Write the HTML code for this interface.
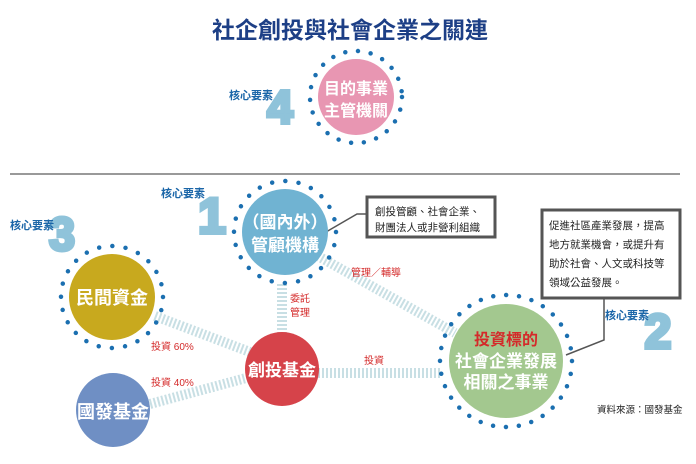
<!DOCTYPE html>
<html><head><meta charset="utf-8"><style>
html,body{margin:0;padding:0;background:#fff;}
svg{display:block;font-family:"Liberation Sans","Noto Sans CJK TC",sans-serif;}
.big{font-weight:bold;fill:#8fc3da;stroke:#8fc3da;stroke-width:4;stroke-linejoin:miter;}
</style></head><body>
<svg width="696" height="464" viewBox="0 0 696 464">
<text x="350" y="38" text-anchor="middle" font-size="23" font-weight="bold" fill="#1d3f86">社企創投與社會企業之關連</text>
<!-- 4 -->
<text class="big" x="280" y="123" text-anchor="middle" font-size="46">4</text>
<text x="251" y="99" text-anchor="middle" font-size="11" font-weight="bold" fill="#1b66a8">核心要素</text>
<circle cx="356" cy="97" r="46" fill="none" stroke="#1b6fb0" stroke-width="4.5" stroke-linecap="round" stroke-dasharray="0 12.85"/>
<circle cx="356" cy="97" r="38" fill="#e896b2"/>
<text x="356" y="94" text-anchor="middle" font-size="16" font-weight="bold" fill="#fff">目的事業</text>
<text x="356" y="116" text-anchor="middle" font-size="16" font-weight="bold" fill="#fff">主管機關</text>
<rect x="10" y="173" width="670" height="2" fill="#999"/>
<!-- connectors -->
<g stroke="#c8dfe4" stroke-width="10" stroke-dasharray="2 2" fill="none">
<line x1="318" y1="256" x2="455" y2="333"/>
<line x1="282" y1="284" x2="282" y2="333"/>
<line x1="155" y1="316" x2="250" y2="352"/>
<line x1="150" y1="404" x2="246" y2="378"/>
<line x1="318" y1="373" x2="442" y2="373"/>
</g>
<!-- callouts -->
<polyline points="326,232 357,214 367,214" fill="none" stroke="#555" stroke-width="1.5"/>
<polyline points="604,298 604,340 566,355" fill="none" stroke="#555" stroke-width="1.5"/>
<rect x="367" y="197" width="128" height="40" fill="#fff" stroke="#555" stroke-width="3"/>
<text x="375" y="215" font-size="10.5" fill="#222">創投管顧、社會企業、</text>
<text x="375" y="231" font-size="10.5" fill="#222">財團法人或非營利組織</text>
<rect x="542" y="210" width="138" height="88" fill="#fff" stroke="#555" stroke-width="3"/>
<text x="549" y="229" font-size="10.5" fill="#222">促進社區產業發展，提高</text>
<text x="549" y="248" font-size="10.5" fill="#222">地方就業機會，或提升有</text>
<text x="549" y="267" font-size="10.5" fill="#222">助於社會、人文或科技等</text>
<text x="549" y="286" font-size="10.5" fill="#222">領域公益發展。</text>
<!-- 1 -->
<text class="big" x="212" y="233" text-anchor="middle" font-size="50">1</text>
<text x="183" y="197" text-anchor="middle" font-size="11" font-weight="bold" fill="#1b66a8">核心要素</text>
<circle cx="285" cy="232" r="51" fill="none" stroke="#1b6fb0" stroke-width="4.5" stroke-linecap="round" stroke-dasharray="0 13.35"/>
<circle cx="285" cy="232" r="43" fill="#70b3d2"/>
<text x="285" y="228" text-anchor="middle" font-size="17" font-weight="bold" fill="#fff">（國內外）</text>
<text x="285" y="251" text-anchor="middle" font-size="17" font-weight="bold" fill="#fff">管顧機構</text>
<!-- 3 -->
<text class="big" x="62" y="250" text-anchor="middle" font-size="46">3</text>
<text x="32" y="229" text-anchor="middle" font-size="11" font-weight="bold" fill="#1b66a8">核心要素</text>
<circle cx="112" cy="297" r="51" fill="none" stroke="#1b6fb0" stroke-width="4.5" stroke-linecap="round" stroke-dasharray="0 13.35"/>
<circle cx="112" cy="297" r="43" fill="#c8a91e"/>
<text x="112" y="304" text-anchor="middle" font-size="18" font-weight="bold" fill="#fff">民間資金</text>
<!-- 創投 -->
<circle cx="282" cy="369" r="37" fill="#d6434a"/>
<text x="282" y="376" text-anchor="middle" font-size="17" font-weight="bold" fill="#fff">創投基金</text>
<circle cx="113" cy="410" r="37" fill="#6f8fc4"/>
<text x="113" y="418" text-anchor="middle" font-size="18" font-weight="bold" fill="#fff">國發基金</text>
<!-- green -->
<text class="big" x="658" y="348" text-anchor="middle" font-size="48">2</text>
<text x="627" y="319" text-anchor="middle" font-size="11" font-weight="bold" fill="#1b66a8">核心要素</text>
<circle cx="506" cy="361" r="66" fill="none" stroke="#1b6fb0" stroke-width="4.5" stroke-linecap="round" stroke-dasharray="0 12.96"/>
<circle cx="506" cy="361" r="57" fill="#a3c88f"/>
<text x="506" y="345" text-anchor="middle" font-size="16" font-weight="bold" fill="#d42a2a">投資標的</text>
<text x="506" y="367" text-anchor="middle" font-size="17" font-weight="bold" fill="#fff">社會企業發展</text>
<text x="506" y="388" text-anchor="middle" font-size="17" font-weight="bold" fill="#fff">相關之事業</text>
<!-- labels -->
<g font-size="10" fill="#d42a2a">
<text x="290" y="302">委託</text>
<text x="290" y="316">管理</text>
<text x="351" y="276">管理／輔導</text>
<text x="364" y="364">投資</text>
<text x="151" y="350">投資 60%</text>
<text x="151" y="386">投資 40%</text>
</g>
<text x="597" y="413" font-size="9.5" fill="#222">資料來源：國發基金</text>
</svg>
</body></html>
